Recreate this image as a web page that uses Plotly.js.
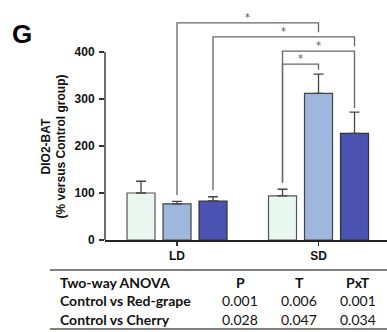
<!DOCTYPE html>
<html><head><meta charset="utf-8">
<script src="https://cdn.plot.ly/plotly-3.0.1.min.js"></script>
<style>html,body{margin:0;padding:0;background:#fff}#chart{width:387px;height:332px}</style>
</head><body><div id="chart"></div>
<script>
// ---- data ----
const groups = ['LD', 'SD'];
const seriesNames = ['Control', 'Red-grape', 'Cherry'];
const controlVals = [100, 94];
const controlErr = [25, 14];
const redGrapeVals = [77, 312];
const redGrapeErr = [5, 41];
const cherryVals = [83, 227];
const cherryErr = [9, 45];
const yTickVals = [0, 100, 200, 300, 400];
const yTitleLines = ['DIO2-BAT', '(% versus Control group)'];
// significance brackets: [groupIdx, seriesIdx] from -> to, label
const bracketFrom = [[0, 1], [0, 2], [1, 0], [1, 0]];
const bracketTo = [[1, 1], [1, 2], [1, 2], [1, 1]];
const bracketTop = [462, 432, 402, 374];
const bracketLabels = ['*', '*', '*', '*'];
// ANOVA table
const tableHeader = ['Two-way ANOVA', 'P', 'T', 'PxT'];
const tableRow1 = ['Control vs Red-grape', '0.001', '0.006', '0.001'];
const tableRow2 = ['Control vs Cherry', '0.028', '0.047', '0.034'];

// ---- styles ----
const fillColors = ['#e9f7f1', '#9db8dc', '#4b52b1'];
const lineColors = ['#555555', '#444444', '#333333'];
const vals = [controlVals, redGrapeVals, cherryVals];
const errs = [controlErr, redGrapeErr, cherryErr];

const bargap = 0.2367;
const slot = (1 - bargap) / seriesNames.length;

const traces = seriesNames.map((name, i) => ({
  type: 'bar', name: name, x: groups, y: vals[i],
  marker: {color: fillColors[i], line: {color: lineColors[i], width: 1.2}},
  error_y: {type: 'data', symmetric: false, array: errs[i], arrayminus: errs[i].map(() => 0),
            color: '#444', thickness: 1.3, width: 5},
  hoverinfo: 'skip'
}));

function xPos(g, s) { return g + (s - (seriesNames.length - 1) / 2) * slot; }
function errTop(g, s) { return vals[s][g] + errs[s][g]; }

const shapes = [];
const annotations = [];
const lineStyle = {color: '#666', width: 1.3};

// brackets
bracketFrom.forEach((f, k) => {
  const t = bracketTo[k];
  const x0 = xPos(f[0], f[1]);
  const x1 = xPos(t[0], t[1]);
  const top = bracketTop[k];
  const y0 = errTop(f[0], f[1]) + 14;
  let y1 = errTop(t[0], t[1]) + 9;
  for (let j = k + 1; j < bracketTop.length; j++) {
    const a = xPos(bracketFrom[j][0], bracketFrom[j][1]);
    const b = xPos(bracketTo[j][0], bracketTo[j][1]);
    if (x1 >= Math.min(a, b) && x1 <= Math.max(a, b) && bracketTop[j] < top) { y1 = Math.max(y1, top - 20); break; }
  }
  shapes.push({type: 'path', xref: 'x', yref: 'y', line: lineStyle,
    path: `M ${x0} ${y0} L ${x0} ${top} L ${x1} ${top} L ${x1} ${y1}`});
  annotations.push({xref: 'x', yref: 'y', x: (x0 + x1) / 2, y: top, text: bracketLabels[k],
    showarrow: false, xanchor: 'center', yanchor: 'bottom', yshift: -2,
    font: {family: 'DejaVu Sans', size: 10, color: '#555'}});
});

// y axis line from 0 to 400 only
shapes.push({type: 'line', xref: 'paper', yref: 'y', x0: 0, x1: 0, y0: 0, y1: yTickVals[yTickVals.length - 1],
  line: {color: '#333', width: 1.4}});

// pixel helpers (plot area: x 105..387, y 0..240)
const W = 282, H = 240, L = 105;
const px = p => (p - L) / W;
const py = p => (H - p) / H;

// y title
annotations.push({xref: 'paper', yref: 'paper', x: px(53.5), y: py(146), xanchor: 'center', yanchor: 'middle',
  textangle: -90, text: yTitleLines.map(s => '<b>' + s + '</b>').join('<br>'), showarrow: false,
  font: {family: 'Liberation Sans', size: 12, color: '#111', weight: 'bold'}});
// panel letter
annotations.push({xref: 'paper', yref: 'paper', x: px(21.5), y: py(34), xanchor: 'center', yanchor: 'middle',
  text: '<b>G</b>', showarrow: false,
  font: {family: 'Liberation Sans', size: 26, color: '#000', weight: 'bold'}});

// table
const colX = [58, 240, 299, 357.5];
const rowY = [282, 300.5, 319];
const tableRows = [tableHeader, tableRow1, tableRow2];
tableRows.forEach((row, r) => {
  row.forEach((cell, c) => {
    const bold = (r === 0 || c === 0);
    annotations.push({xref: 'paper', yref: 'paper', x: px(colX[c]), y: py(rowY[r]),
      xanchor: c === 0 ? 'left' : 'center', yanchor: 'middle', text: bold ? '<b>' + cell + '</b>' : cell,
      showarrow: false,
      font: {family: 'Lato', size: 14, color: '#111', weight: bold ? 'bold' : 'normal'}});
  });
});
shapes.push({type: 'line', xref: 'paper', yref: 'paper', x0: px(50), x1: px(387), y0: py(270), y1: py(270),
  line: {color: '#555', width: 1.6}});
shapes.push({type: 'line', xref: 'paper', yref: 'paper', x0: px(50), x1: px(387), y0: py(329), y1: py(329),
  line: {color: '#555', width: 1.6}});

const layout = {
  width: 387, height: 332,
  margin: {l: 105, r: 0, t: 0, b: 92},
  paper_bgcolor: '#fff', plot_bgcolor: '#fff',
  showlegend: false,
  barmode: 'group', bargap: bargap, bargroupgap: 0.222,
  xaxis: {type: 'category', range: [-0.509, 1.484], showline: true, linecolor: '#222', linewidth: 1.5,
    ticks: 'outside', ticklen: 4, tickcolor: '#333', tickwidth: 1.3, showgrid: false, zeroline: false,
    tickfont: {family: 'Liberation Sans', size: 12, color: '#111', weight: 'bold'}},
  yaxis: {range: [0, 510.6], tickvals: yTickVals, ticks: 'outside', ticklen: 5, tickcolor: '#333', tickwidth: 1.3,
    showline: false, showgrid: false, zeroline: false, ticklabelstandoff: 2,
    tickfont: {family: 'Liberation Sans', size: 12, color: '#111', weight: 'bold'}},
  shapes: shapes,
  annotations: annotations
};

Plotly.newPlot('chart', traces, layout, {displayModeBar: false, staticPlot: true});
</script></body></html>
